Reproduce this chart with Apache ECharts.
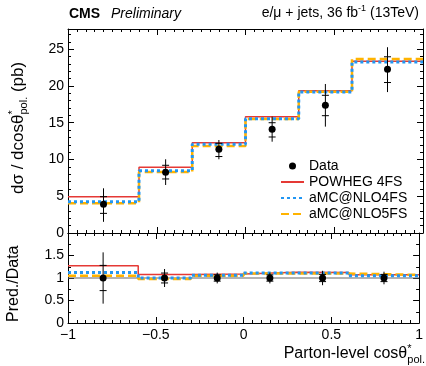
<!DOCTYPE html>
<html>
<head>
<meta charset="utf-8">
<script src="https://cdn.jsdelivr.net/npm/echarts@6/dist/echarts.min.js"></script>
<style>html,body{margin:0;padding:0;background:#fff;}#c{width:426px;height:366px;}</style>
</head>
<body>
<div id="c"></div>
<script>
// ---- data ----
const binEdges = [-1, -0.6, -0.3, 0, 0.3, 0.6, 1];
const binCenters = [-0.8, -0.45, -0.15, 0.15, 0.45, 0.8];
const xTicks = [-1, -0.5, 0, 0.5, 1];

const dataXsec = [3.92, 8.26, 11.4, 14.1, 17.37, 22.27];
const dataTotDown = [2.40, 1.73, 1.37, 1.68, 2.90, 3.10];
const dataTotUp = [2.16, 1.77, 1.25, 1.73, 2.90, 3.00];
const dataStatDown = [1.25, 0.91, 1.00, 1.04, 1.41, 1.80];
const dataStatUp = [1.02, 0.95, 0.80, 0.90, 1.36, 1.70];

const powheg4FS = [4.94, 8.94, 12.29, 15.83, 19.36, 23.36];
const amcnlo4FS = [4.26, 8.48, 12.07, 15.55, 19.18, 23.26];
const amcnlo5FS = [4.04, 8.30, 11.84, 15.50, 19.20, 23.67];

const ratioPowheg4FS = [1.27, 1.08, 1.09, 1.13, 1.12, 1.07];
const ratioAmcnlo4FS = [1.12, 1.00, 1.06, 1.11, 1.11, 1.05];
const ratioAmcnlo5FS = [1.05, 0.98, 1.05, 1.10, 1.10, 1.07];
const ratioData = [1, 1, 1, 1, 1, 1];
const ratioTotErr = [0.57, 0.20, 0.12, 0.12, 0.16, 0.14];
const ratioStatErr = [0.28, 0.11, 0.07, 0.07, 0.08, 0.08];

const seriesNames = ['Data', 'POWHEG 4FS', 'aMC@NLO4FS', 'aMC@NLO5FS'];
const colors = {powheg: '#e53935', amc4: '#2196f3', amc5: '#ffb300'};

// ---- helpers ----
const FONT = 'Liberation Sans, Arial, Helvetica, sans-serif';
function stepData(vals) {
  const out = vals.map((v, i) => [binEdges[i], v]);
  out.push([binEdges[binEdges.length - 1], vals[vals.length - 1]]);
  return out;
}
function fmtNum(v) { return String(v).replace('-', '\u2212'); }

function errRender(params, api) {
  const x = api.value(0), y = api.value(1);
  const tLo = api.coord([x, y - api.value(2)]);
  const tHi = api.coord([x, y + api.value(3)]);
  const sLo = api.coord([x, y - api.value(4)]);
  const sHi = api.coord([x, y + api.value(5)]);
  const w = 3.5;
  const st = {stroke: '#000', lineWidth: 1};
  return {type: 'group', children: [
    {type: 'line', shape: {x1: tLo[0], y1: tLo[1], x2: tHi[0], y2: tHi[1]}, style: st},
    {type: 'line', shape: {x1: sLo[0] - w, y1: sLo[1], x2: sLo[0] + w, y2: sLo[1]}, style: st},
    {type: 'line', shape: {x1: sHi[0] - w, y1: sHi[1], x2: sHi[0] + w, y2: sHi[1]}, style: st}
  ]};
}

const axLine = {show: true, onZero: false, lineStyle: {color: '#000', width: 1}};
function xAx(grid, pos, labels) {
  return {
    type: 'value', gridIndex: grid, position: pos, min: xTicks[0], max: xTicks[xTicks.length - 1], interval: 0.5,
    axisLine: axLine, splitLine: {show: false},
    axisTick: {show: true, inside: true, length: 6, lineStyle: {color: '#000'}},
    minorTick: {show: true, splitNumber: 10, length: 3, lineStyle: {color: '#000'}},
    axisLabel: {show: labels, margin: 5, color: '#000', fontSize: 14, fontFamily: FONT, formatter: fmtNum,
      showMinLabel: true, showMaxLabel: true}
  };
}
function yAx(grid, pos, min, max, interval, labels, tickLen, minorSplit, line) {
  return {
    type: 'value', gridIndex: grid, position: pos, min: min, max: max, interval: interval,
    axisLine: line ? axLine : {show: false, onZero: false}, splitLine: {show: false},
    axisTick: {show: true, inside: true, length: tickLen, lineStyle: {color: '#000'}},
    minorTick: {show: minorSplit > 0, splitNumber: minorSplit || 5, length: 3, lineStyle: {color: '#000'}},
    axisLabel: {show: labels, margin: 4, color: '#000', fontSize: 14, fontFamily: FONT, showMaxLabel: false,
      formatter: fmtNum}
  };
}

const hideSym = {opacity: 0};
const option = {
  animation: false,
  backgroundColor: '#fff',
  grid: [
    {left: 68, right: 3, top: 29, height: 204},
    {left: 68, right: 3, top: 233, height: 90}
  ],
  xAxis: [
    xAx(0, 'bottom', false), xAx(0, 'top', false),
    xAx(1, 'bottom', true), xAx(1, 'top', false)
  ],
  yAxis: [
    yAx(0, 'left', 0, 27.75, 5, true, 6, 0, true),
    yAx(0, 'left', 0, 27.75, 1, false, 3, 0, false),
    yAx(0, 'right', 0, 27.75, 5, false, 6, 0, true),
    yAx(0, 'right', 0, 27.75, 1, false, 3, 0, false),
    yAx(1, 'left', 0, 2, 0.5, true, 6, 2, true),
    yAx(1, 'right', 0, 2, 0.5, false, 6, 2, true)
  ],
  legend: {
    data: [
      {name: seriesNames[0]},
      {name: seriesNames[1], itemStyle: hideSym},
      {name: seriesNames[2], itemStyle: hideSym},
      {name: seriesNames[3], itemStyle: hideSym}
    ],
    orient: 'vertical', left: 275, top: 153,
    itemWidth: 23, itemHeight: 7, itemGap: 0,
    textStyle: {fontSize: 14, fontFamily: FONT, color: '#000', lineHeight: 16},
    selectedMode: false
  },
  graphic: [
    {type: 'text', left: 69, top: 7, style: {text: 'CMS', font: 'bold 14px ' + FONT, fill: '#000'}},
    {type: 'text', left: 111, top: 7, style: {text: 'Preliminary', font: 'italic 14px ' + FONT, fill: '#000'}},
    {type: 'text', right: 7, top: 4, style: {
      text: 'e/\u03bc + jets, 36 fb{sup|-1} (13TeV)', font: '14px ' + FONT, fill: '#000',
      rich: {sup: {fontSize: 9, fontFamily: FONT, verticalAlign: 'top', lineHeight: 18}},
      lineHeight: 18, verticalAlign: 'bottom'}},
    {type: 'text', x: 7, y: 194, rotation: Math.PI / 2, style: {
      text: 'd\u03c3 / dcos\u03b8{sup|*}{sub|pol.} (pb)', font: '17px ' + FONT, fill: '#000',
      rich: {sup: {fontSize: 11, fontFamily: FONT, verticalAlign: 'top', lineHeight: 22, width: 0},
             sub: {fontSize: 11, fontFamily: FONT, verticalAlign: 'bottom', lineHeight: 22}},
      lineHeight: 22, align: 'left', verticalAlign: 'top'}},
    {type: 'text', x: 6, y: 322, rotation: Math.PI / 2, style: {
      text: 'Pred./Data', font: '16px ' + FONT, fill: '#000', align: 'left', verticalAlign: 'top'}},
    {type: 'text', right: 1, top: 343, style: {
      text: 'Parton-level cos\u03b8{sup|*}{sub|pol.}', font: '16px ' + FONT, fill: '#000',
      rich: {sup: {fontSize: 11, fontFamily: FONT, verticalAlign: 'top', lineHeight: 22, width: 0},
             sub: {fontSize: 11, fontFamily: FONT, verticalAlign: 'bottom', lineHeight: 22}},
      lineHeight: 22}}
  ],
  series: [
    {name: seriesNames[1], type: 'line', step: 'end', xAxisIndex: 0, yAxisIndex: 0, data: stepData(powheg4FS),
      symbol: 'none', lineStyle: {color: colors.powheg, width: 1.5}, itemStyle: {color: colors.powheg}, z: 2},
    {name: seriesNames[3], type: 'line', step: 'end', xAxisIndex: 0, yAxisIndex: 0, data: stepData(amcnlo5FS),
      symbol: 'none', lineStyle: {color: colors.amc5, width: 2.5, type: [8, 4]}, itemStyle: {color: colors.amc5}, z: 3},
    {name: seriesNames[2], type: 'line', step: 'end', xAxisIndex: 0, yAxisIndex: 0, data: stepData(amcnlo4FS),
      symbol: 'none', lineStyle: {color: colors.amc4, width: 3, type: [3, 3]}, itemStyle: {color: colors.amc4}, z: 4},
    {name: 'err', type: 'custom', xAxisIndex: 0, yAxisIndex: 0, renderItem: errRender, z: 5,
      encode: {x: 0, y: 1},
      data: binCenters.map((x, i) => [x, dataXsec[i], dataTotDown[i], dataTotUp[i], dataStatDown[i], dataStatUp[i]])},
    {name: seriesNames[0], type: 'scatter', xAxisIndex: 0, yAxisIndex: 0, symbol: 'circle', symbolSize: 7,
      itemStyle: {color: '#000', opacity: 1}, z: 6, data: binCenters.map((x, i) => [x, dataXsec[i]])},

    {name: 'ref', type: 'line', xAxisIndex: 2, yAxisIndex: 4, data: [[binEdges[0], 1], [binEdges[6], 1]],
      symbol: 'none', lineStyle: {color: '#666', width: 1}, z: 1},
    {name: 'r1', type: 'line', step: 'end', xAxisIndex: 2, yAxisIndex: 4, data: stepData(ratioPowheg4FS),
      symbol: 'none', lineStyle: {color: colors.powheg, width: 1.5}, z: 2},
    {name: 'r3', type: 'line', step: 'end', xAxisIndex: 2, yAxisIndex: 4, data: stepData(ratioAmcnlo5FS),
      symbol: 'none', lineStyle: {color: colors.amc5, width: 2.5, type: [8, 4]}, z: 3},
    {name: 'r2', type: 'line', step: 'end', xAxisIndex: 2, yAxisIndex: 4, data: stepData(ratioAmcnlo4FS),
      symbol: 'none', lineStyle: {color: colors.amc4, width: 3, type: [3, 3]}, z: 4},
    {name: 'rerr', type: 'custom', xAxisIndex: 2, yAxisIndex: 4, renderItem: errRender, z: 5,
      encode: {x: 0, y: 1},
      data: binCenters.map((x, i) => [x, ratioData[i], ratioTotErr[i], ratioTotErr[i], ratioStatErr[i], ratioStatErr[i]])},
    {name: 'rdata', type: 'scatter', xAxisIndex: 2, yAxisIndex: 4, symbol: 'circle', symbolSize: 7,
      itemStyle: {color: '#000', opacity: 1}, z: 6, data: binCenters.map((x, i) => [x, ratioData[i]])}
  ]
};

const chart = echarts.init(document.getElementById('c'), null, {renderer: 'canvas'});
chart.setOption(option);
</script>
</body>
</html>
